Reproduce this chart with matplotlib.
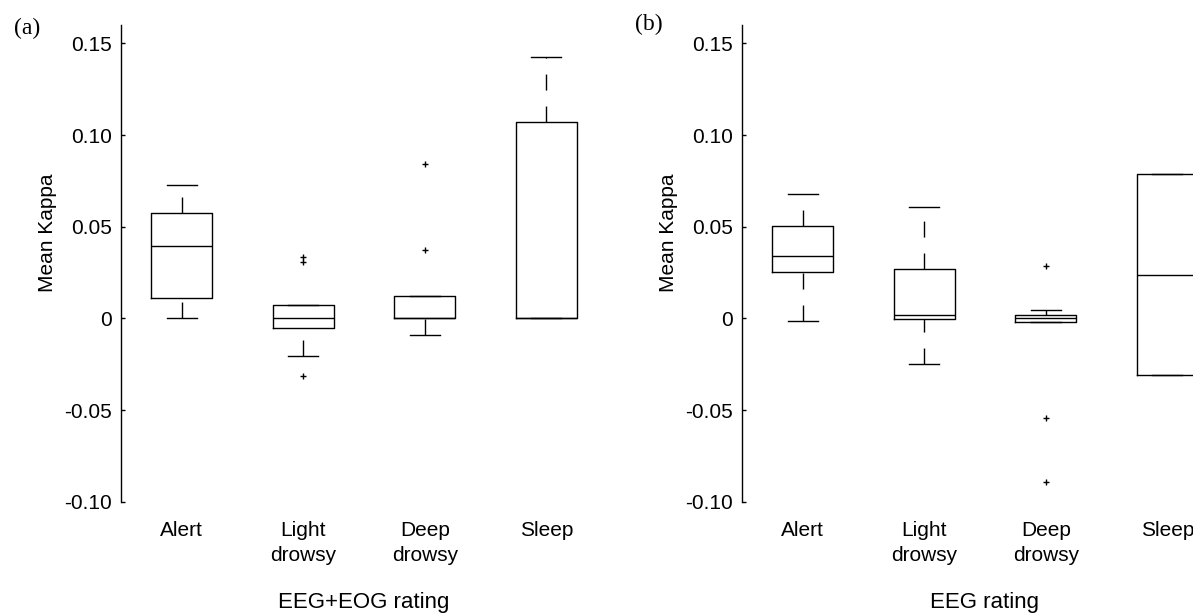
import matplotlib.pyplot as plt

plt.rcParams['font.family'] = 'Liberation Sans'

categories = ['Alert', 'Light\ndrowsy', 'Deep\ndrowsy', 'Sleep']
ytick_values = [-0.10, -0.05, 0, 0.05, 0.10, 0.15]
ytick_labels = ['-0.10', '-0.05', '0', '0.05', '0.10', '0.15']

# (a) EEG+EOG rating
eog_whislo = [0.0, -0.0204, -0.0092, 0.0]
eog_q1 = [0.0113, -0.0050, 0.0, 0.0]
eog_med = [0.0393, 0.0002, 0.0, 0.0]
eog_q3 = [0.0576, 0.0075, 0.0123, 0.1069]
eog_whishi = [0.0725, 0.0075, 0.0123, 0.1426]
eog_fliers = [[], [0.0336, 0.0307, -0.0314], [0.0841, 0.0371], []]

# (b) EEG rating
eeg_whislo = [-0.0017, -0.0249, -0.0018, -0.0309]
eeg_q1 = [0.0255, -0.0004, -0.0018, -0.0309]
eeg_med = [0.0339, 0.0021, 0.0002, 0.0237]
eeg_q3 = [0.0505, 0.0270, 0.0016, 0.0789]
eeg_whishi = [0.0680, 0.0607, 0.0044, 0.0789]
eeg_fliers = [[], [], [0.0286, -0.0541, -0.0893], []]


def draw_panel(ax, whislo, q1, med, q3, whishi, fliers, xlabel):
    stats = []
    for i in range(len(categories)):
        stats.append(dict(whislo=whislo[i], q1=q1[i], med=med[i], q3=q3[i],
                          whishi=whishi[i], fliers=fliers[i]))
    line = dict(color='black', linewidth=1.0)
    res = ax.bxp(stats, positions=[1, 2, 3, 4], widths=0.5, capwidths=0.25,
                 boxprops=line, capprops=line, medianprops=line,
                 whiskerprops=dict(color='black', linewidth=1.0,
                                   linestyle=(0, (11.5, 11.5))),
                 flierprops=dict(marker='+', markeredgecolor='black',
                                 markersize=5, markeredgewidth=1.0,
                                 linestyle='none'),
                 manage_ticks=False)
    # dashes of the lower whiskers run up from the cap
    for w in res['whiskers'][0::2]:
        w.set_ydata(w.get_ydata()[::-1])

    ax.set_xlim(0.5, 4.5)
    ax.set_ylim(-0.10, 0.16)
    ax.set_yticks(ytick_values)
    ax.set_yticklabels(ytick_labels)
    ax.set_xticks([1, 2, 3, 4])
    ax.set_xticklabels(categories, linespacing=1.4)
    ax.tick_params(axis='y', direction='in', length=3, width=1,
                   pad=6.5, labelsize=15)
    ax.tick_params(axis='x', length=0, pad=14, labelsize=15)
    for s in ['top', 'right', 'bottom']:
        ax.spines[s].set_visible(False)
    ax.spines['left'].set_linewidth(1.0)
    ax.set_ylabel('Mean Kappa', fontsize=15)
    ax.yaxis.set_label_coords(-0.132, 0.564)
    ax.set_xlabel(xlabel, fontsize=16, labelpad=19)


fig = plt.figure(figsize=(11.93, 6.15), dpi=100)
ax1 = fig.add_axes([121 / 1193, 113.3 / 615, 486 / 1193, 476.7 / 615])
ax2 = fig.add_axes([742 / 1193, 113.3 / 615, 486 / 1193, 476.7 / 615])

draw_panel(ax1, eog_whislo, eog_q1, eog_med, eog_q3, eog_whishi, eog_fliers,
           'EEG+EOG rating')
draw_panel(ax2, eeg_whislo, eeg_q1, eeg_med, eeg_q3, eeg_whishi, eeg_fliers,
           'EEG rating')

fig.text(27 / 1193, 1 - 28 / 615, '(a)', family='Liberation Serif',
         fontsize=17, ha='center', va='center')
fig.text(649 / 1193, 1 - 24 / 615, '(b)', family='Liberation Serif',
         fontsize=17, ha='center', va='center')

fig.savefig('out.png', dpi=100)
